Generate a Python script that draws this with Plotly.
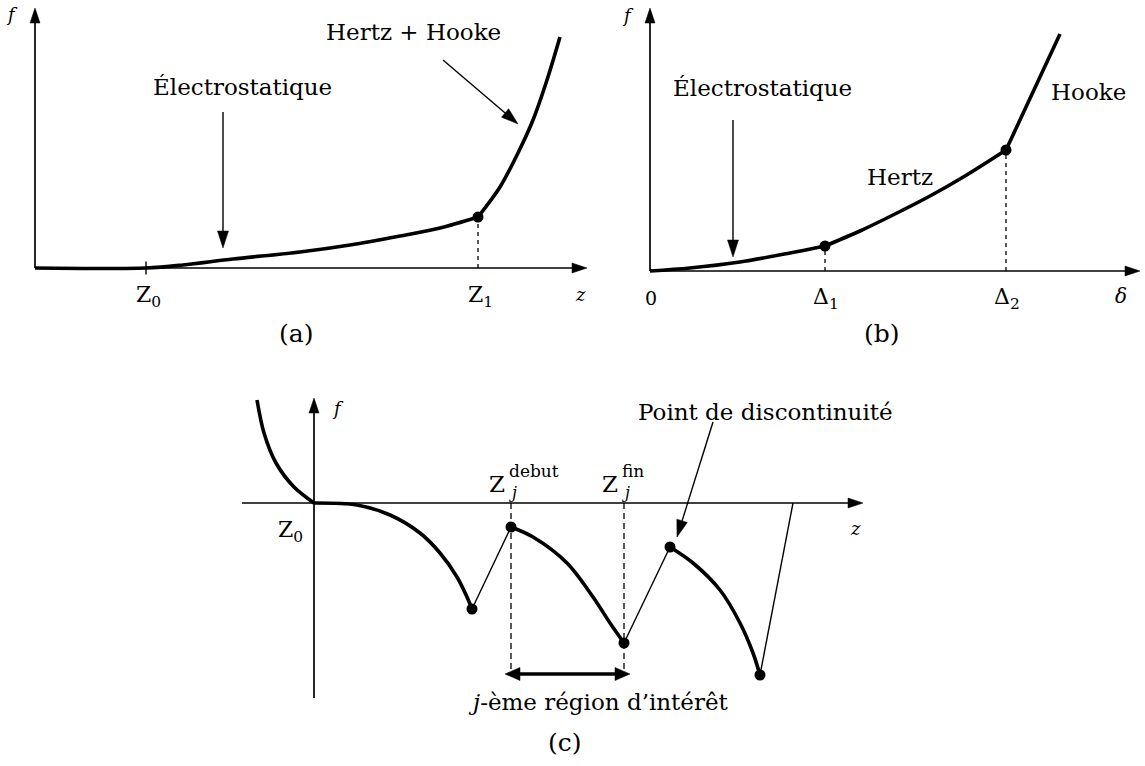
import math
import plotly.graph_objects as go

# ---------------- Panel (a) : f(z) ----------------
a_low_x = [0, 1.11, 1.48, 1.98, 2.65, 3.15, 3.65, 4.05, 4.43]
a_low_y = [0, 0, 0.03, 0.09, 0.16, 0.23, 0.32, 0.40, 0.51]
a_high_x = [4.43, 4.65, 4.83, 4.98, 5.12, 5.25]
a_high_y = [0.51, 0.81, 1.15, 1.48, 1.88, 2.31]
a_ticks_x = [1.11, 4.43]
a_ticks_lbl = ["Z<sub>0</sub>", "Z<sub>1</sub>"]
a_dot = (4.43, 0.51)

# ---------------- Panel (b) : f(delta) ----------------
b_elec_x = [0, 0.40, 0.90, 1.40, 1.75]
b_elec_y = [0, 0.03, 0.09, 0.18, 0.25]
b_hertz_x = [1.75, 2.10, 2.45, 2.80, 3.15, 3.56]
b_hertz_y = [0.25, 0.40, 0.57, 0.75, 0.95, 1.21]
b_hooke_x = [3.56, 4.10]
b_hooke_y = [1.21, 2.37]
b_dots_x = [1.75, 3.56]
b_dots_y = [0.25, 1.21]
b_ticks_x = [0.01, 1.76, 3.57]
b_ticks_lbl = ["0", "Δ<sub>1</sub>", "Δ<sub>2</sub>"]

# ---------------- Panel (c) : f(z) with discontinuities ----------------
c_left_x = [-0.57, -0.50, -0.38, -0.20, 0]
c_left_y = [1.03, 0.70, 0.40, 0.16, 0]
c_seg1_x = [0, 0.43, 0.76, 1.06, 1.26, 1.43, 1.53, 1.58]
c_seg1_y = [0, -0.02, -0.12, -0.30, -0.50, -0.74, -0.94, -1.06]
c_seg2_x = [1.97, 2.19, 2.53, 2.79, 2.96, 3.10]
c_seg2_y = [-0.24, -0.34, -0.60, -0.94, -1.20, -1.40]
c_seg3_x = [3.56, 3.79, 4.06, 4.26, 4.39, 4.46]
c_seg3_y = [-0.44, -0.60, -0.87, -1.20, -1.50, -1.72]
c_jump_x = [1.58, 1.97, None, 3.10, 3.56, None, 4.46, 4.79]
c_jump_y = [-1.06, -0.24, None, -1.40, -0.44, None, -1.72, 0]
c_dots_x = [1.58, 1.97, 3.10, 3.56, 4.46]
c_dots_y = [-1.06, -0.24, -1.40, -0.44, -1.72]
c_region = (1.97, 3.10)

FONT = "DejaVu Serif"
BLACK = "black"
THICK = 3.6
fig = go.Figure()


def line(x, y, ax, width=THICK, dash=None, shape="linear"):
    fig.add_trace(go.Scatter(x=x, y=y, mode="lines", xaxis=ax[0], yaxis=ax[1],
                             line=dict(color=BLACK, width=width, dash=dash, shape=shape,
                                       smoothing=0.9),
                             hoverinfo="skip", showlegend=False))


def dots(x, y, ax):
    fig.add_trace(go.Scatter(x=x, y=y, mode="markers", xaxis=ax[0], yaxis=ax[1],
                             marker=dict(color=BLACK, size=11),
                             hoverinfo="skip", showlegend=False))


def head(x0, y0, x1, y1, ax, L, W):
    # filled triangular head at (x1, y1) pointing away from (x0, y0)
    d = math.hypot(x1 - x0, y1 - y0)
    ux, uy = (x1 - x0) / d, (y1 - y0) / d
    bx, by = x1 - L * ux, y1 - L * uy
    px, py = -uy * W, ux * W
    fig.add_trace(go.Scatter(x=[x1, bx + px, bx - px, x1], y=[y1, by + py, by - py, y1],
                             mode="lines", fill="toself", fillcolor=BLACK,
                             xaxis=ax[0], yaxis=ax[1], line=dict(color=BLACK, width=0.5),
                             hoverinfo="skip", showlegend=False))
    return bx + 0.3 * L * ux, by + 0.3 * L * uy


def arrow(x0, y0, x1, y1, ax, width=1.4, L=0.17, W=0.055):
    bx, by = head(x0, y0, x1, y1, ax, L, W)
    line([x0, bx], [y0, by], ax, width=width)


def double_arrow(x0, x1, y, ax, width=3.4, L=0.15, W=0.065):
    b1 = head(x1, y, x0, y, ax, L, W)
    b2 = head(x0, y, x1, y, ax, L, W)
    line([b1[0], b2[0]], [y, y], ax, width=width)


annots = []


def text(s, x, y, ax, size=23, xanchor="center"):
    annots.append(dict(text=s, x=x, y=y, xref=ax[0], yref=ax[1], showarrow=False,
                       xanchor=xanchor, yanchor="middle",
                       font=dict(family=FONT, size=size, color=BLACK)))


A = ("x", "y")
B = ("x2", "y2")
C = ("x3", "y3")
AX = dict(width=1.7, L=0.15, W=0.05)

# ---- panel (a)
arrow(0, 0, 0, 2.60, A, **AX)
arrow(0, 0, 5.52, 0, A, **AX)
line(a_low_x, a_low_y, A, shape="spline")
line(a_high_x, a_high_y, A, shape="spline")
line([a_ticks_x[0], a_ticks_x[0]], [-0.065, 0.065], A, width=1.4)
line([a_dot[0], a_dot[0]], [0, a_dot[1]], A, width=1.3, dash="4px,4px")
dots([a_dot[0]], [a_dot[1]], A)
text("<i>f</i>", -0.23, 2.54, A, size=18)
text("<i>z</i>", 5.45, -0.26, A, size=18)
for tx, tl in zip(a_ticks_x, a_ticks_lbl):
    text(tl, tx + 0.02, -0.28, A, size=22)
text("(a)", 2.61, -0.65, A, size=25)
text("Électrostatique", 2.07, 1.81, A)
arrow(1.88, 1.56, 1.88, 0.20, A)
text("Hertz + Hooke", 3.78, 2.36, A)
arrow(4.08, 2.08, 4.83, 1.44, A)

# ---- panel (b)
arrow(0, 0, 0, 2.63, B, **AX)
arrow(0, 0, 4.90, 0, B, **AX)
line(b_elec_x, b_elec_y, B, shape="spline")
line(b_hertz_x, b_hertz_y, B, shape="spline")
line(b_hooke_x, b_hooke_y, B)
for dx, dy in zip(b_dots_x, b_dots_y):
    line([dx, dx], [0, dy], B, width=1.3, dash="4px,4px")
dots(b_dots_x, b_dots_y, B)
text("<i>f</i>", -0.22, 2.56, B, size=18)
text("<i>δ</i>", 4.71, -0.25, B, size=20)
for tx, tl in zip(b_ticks_x, b_ticks_lbl):
    text(tl, tx, -0.27, B, size=22 if tl != "0" else 19)
text("(b)", 2.32, -0.62, B, size=25)
text("Électrostatique", 1.12, 1.83, B)
arrow(0.83, 1.51, 0.83, 0.14, B)
text("Hertz", 2.50, 0.94, B)
text("Hooke", 4.38, 1.79, B)

# ---- panel (c)
arrow(0, -1.95, 0, 1.05, C, **AX)
arrow(-0.72, 0, 5.49, 0, C, **AX)
line(c_left_x, c_left_y, C, shape="spline")
line(c_seg1_x, c_seg1_y, C, shape="spline")
line(c_seg2_x, c_seg2_y, C, shape="spline")
line(c_seg3_x, c_seg3_y, C, shape="spline")
line(c_jump_x, c_jump_y, C, width=1.4)
for rx in c_region:
    line([rx, rx], [0, -1.70], C, width=1.3, dash="6px,4px")
dots(c_dots_x, c_dots_y, C)
double_arrow(c_region[0] - 0.06, c_region[1] + 0.06, -1.71, C)
text("<i>f</i>", 0.24, 0.95, C, size=18)
text("<i>z</i>", 5.41, -0.25, C, size=18)
text("Z<sub>0</sub>", -0.24, -0.28, C, size=22)
for rx, sup in zip(c_region, ["debut", "fin"]):
    text("Z", rx - 0.14, 0.19, C, size=23)
    text("<i>j</i>", rx + 0.02, 0.11, C, size=16)
    text(sup, rx - 0.04, 0.32, C, size=17, xanchor="left")
text("Point de discontinuité", 4.51, 0.91, C)
arrow(3.99, 0.81, 3.63, -0.34, C)
text("<i>j</i>-ème région d’intérêt", 2.84, -1.99, C)
text("(c)", 2.51, -2.39, C, size=25)

ranges = {
    "": ([-0.35, 11.10], [-4.98, 2.68]),
    "2": ([-6.50, 4.95], [-4.95, 2.71]),
    "3": ([-3.14, 8.31], [-2.63, 5.03]),
}
axcommon = dict(visible=False, showgrid=False, zeroline=False, fixedrange=True,
                domain=[0, 1])
layout = dict(width=1145, height=766, margin=dict(l=0, r=0, t=0, b=0, pad=0),
              paper_bgcolor="white", plot_bgcolor="rgba(0,0,0,0)",
              showlegend=False, hovermode=False, annotations=annots)
for k, (xr, yr) in ranges.items():
    layout["xaxis" + k] = dict(range=xr, anchor="y" + k, **axcommon)
    layout["yaxis" + k] = dict(range=yr, anchor="x" + k, **axcommon)
fig.update_layout(**layout)

fig.write_html("out.html", config={"displayModeBar": False, "staticPlot": True},
               post_script="document.body.style.margin='0';document.body.style.overflow='hidden';")
